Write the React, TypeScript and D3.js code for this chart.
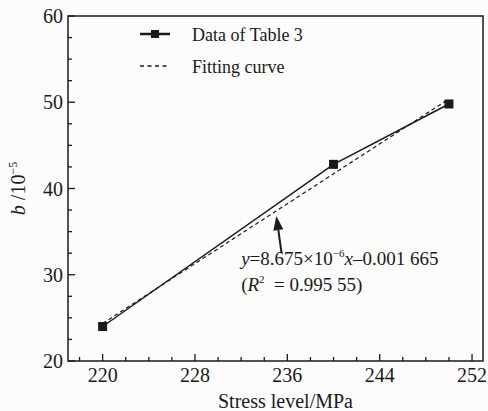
import React from 'react';
import * as d3 from 'd3';

// Stress level (MPa) vs b (×10^-5)
const stress = [220, 240, 250];
const bValues = [24.0, 42.8, 49.8];

// fitting curve end points
const fitStress = [220, 250];
const fitValues = [24.35, 50.38];

const xTicks = [220, 228, 236, 244, 252];
const xMinorTicks = [218, 222, 224, 226, 230, 232, 234, 238, 240, 242, 246, 248, 250];
const yTicks = [20, 30, 40, 50, 60];
const yMinorTicks = [22.5, 25, 27.5, 32.5, 35, 37.5, 42.5, 45, 47.5, 52.5, 55, 57.5];

const legendLabels = ['Data of Table 3', 'Fitting curve'];

const width = 488;
const height = 411;
const marginTop = 16;
const marginRight = 5;
const marginBottom = 50;
const marginLeft = 68;

const font = '"Liberation Serif", "Times New Roman", serif';
const ink = '#1a1a1a';

const App = () => {
  const x = d3.scaleLinear([217, 252.95], [marginLeft, width - marginRight]);
  const y = d3.scaleLinear([20, 60], [height - marginBottom, marginTop]);

  const line = d3.line<number>()
    .x((d, i) => x(stress[i]))
    .y(d => y(d));

  const fitLine = d3.line<number>()
    .x((d, i) => x(fitStress[i]))
    .y(d => y(d));

  const bottom = height - marginBottom;
  const mk = 9;

  // arrow pointing at the fitted line
  const tip = [x(235.05), y(36.8)];
  const tail = [x(235.5), y(32.5)];
  const ang = Math.atan2(tip[1] - tail[1], tip[0] - tail[0]);
  const headLen = 14;
  const headW = 5;
  const bx = tip[0] - headLen * Math.cos(ang);
  const by = tip[1] - headLen * Math.sin(ang);
  const px = -Math.sin(ang) * headW;
  const py = Math.cos(ang) * headW;

  return (
    <div style={{ position: 'absolute', left: 0, top: 0 }}>
      <svg width={width} height={height} viewBox={`0 0 ${width} ${height}`} style={{ display: 'block', background: '#fcfcfc' }}>
        {/* frame */}
        <rect
          x={marginLeft}
          y={marginTop}
          width={width - marginRight - marginLeft}
          height={bottom - marginTop}
          fill="none"
          stroke={ink}
          strokeWidth={1.5}
        />

        {/* x ticks */}
        {xTicks.map(t => (
          <g key={`xt${t}`}>
            <line x1={x(t)} x2={x(t)} y1={bottom} y2={bottom - 7} stroke={ink} strokeWidth={1.3} />
            <text x={x(t)} y={bottom + 21} textAnchor="middle" fontFamily={font} fontSize={20} fill={ink}>{t}</text>
          </g>
        ))}
        {xMinorTicks.map(t => (
          <line key={`xm${t}`} x1={x(t)} x2={x(t)} y1={bottom} y2={bottom - 4} stroke={ink} strokeWidth={1.3} />
        ))}

        {/* y ticks */}
        {yTicks.map(t => (
          <g key={`yt${t}`}>
            <line x1={marginLeft} x2={marginLeft + 7} y1={y(t)} y2={y(t)} stroke={ink} strokeWidth={1.3} />
            <text x={marginLeft - 5} y={y(t)} dy="0.35em" textAnchor="end" fontFamily={font} fontSize={20} fill={ink}>{t}</text>
          </g>
        ))}
        {yMinorTicks.map(t => (
          <line key={`ym${t}`} x1={marginLeft} x2={marginLeft + 4} y1={y(t)} y2={y(t)} stroke={ink} strokeWidth={1.3} />
        ))}

        {/* axis titles */}
        <text x={(marginLeft + width - marginRight) / 2 + 10} y={height - 3} textAnchor="middle" fontFamily={font} fontSize={20} fill={ink}>
          Stress level/MPa
        </text>
        <text
          transform={`translate(25,${(marginTop + bottom) / 2}) rotate(-90)`}
          textAnchor="middle"
          fontFamily={font}
          fontSize={20}
          fill={ink}
        >
          <tspan fontStyle="italic">b</tspan>
          <tspan> /10</tspan>
          <tspan fontSize={12} dy={-8}>−5</tspan>
        </text>

        {/* fitting curve */}
        <path d={fitLine(fitValues) ?? ''} fill="none" stroke={ink} strokeWidth={1.2} strokeDasharray="4,3" />

        {/* data */}
        <path d={line(bValues) ?? ''} fill="none" stroke={ink} strokeWidth={1.5} />
        {bValues.map((v, i) => (
          <rect key={`p${i}`} x={x(stress[i]) - mk / 2} y={y(v) - mk / 2} width={mk} height={mk} fill={ink} />
        ))}

        {/* legend */}
        <line x1={140} x2={170} y1={34} y2={34} stroke={ink} strokeWidth={2.5} />
        <rect x={155 - 4} y={34 - 4} width={8} height={8} fill={ink} />
        <text x={192} y={41} fontFamily={font} fontSize={18} fill={ink}>{legendLabels[0]}</text>
        <line x1={140} x2={170} y1={66} y2={66} stroke={ink} strokeWidth={1.3} strokeDasharray="4,3.5" />
        <text x={192} y={73} fontFamily={font} fontSize={18} fill={ink}>{legendLabels[1]}</text>

        {/* annotation */}
        <line x1={tail[0]} y1={tail[1]} x2={bx} y2={by} stroke={ink} strokeWidth={2} />
        <path d={`M${tip[0]},${tip[1]}L${bx + px},${by + py}L${bx - px},${by - py}Z`} fill={ink} />
        <text x={x(232)} y={y(31.1)} fontFamily={font} fontSize={19} fill={ink}>
          <tspan fontStyle="italic">y</tspan>
          <tspan>=8.675×10</tspan>
          <tspan fontSize={11} dy={-8}>−6</tspan>
          <tspan fontStyle="italic" dy={8}>x</tspan>
          <tspan>–0.001 665</tspan>
        </text>
        <text x={x(232)} y={y(28.1)} fontFamily={font} fontSize={19} fill={ink}>
          <tspan>(</tspan>
          <tspan fontStyle="italic">R</tspan>
          <tspan fontSize={11} dy={-8}>2</tspan>
          <tspan dy={8}>{'\u00a0 = 0.995 55)'}</tspan>
        </text>
      </svg>
    </div>
  );
};

export default App;
